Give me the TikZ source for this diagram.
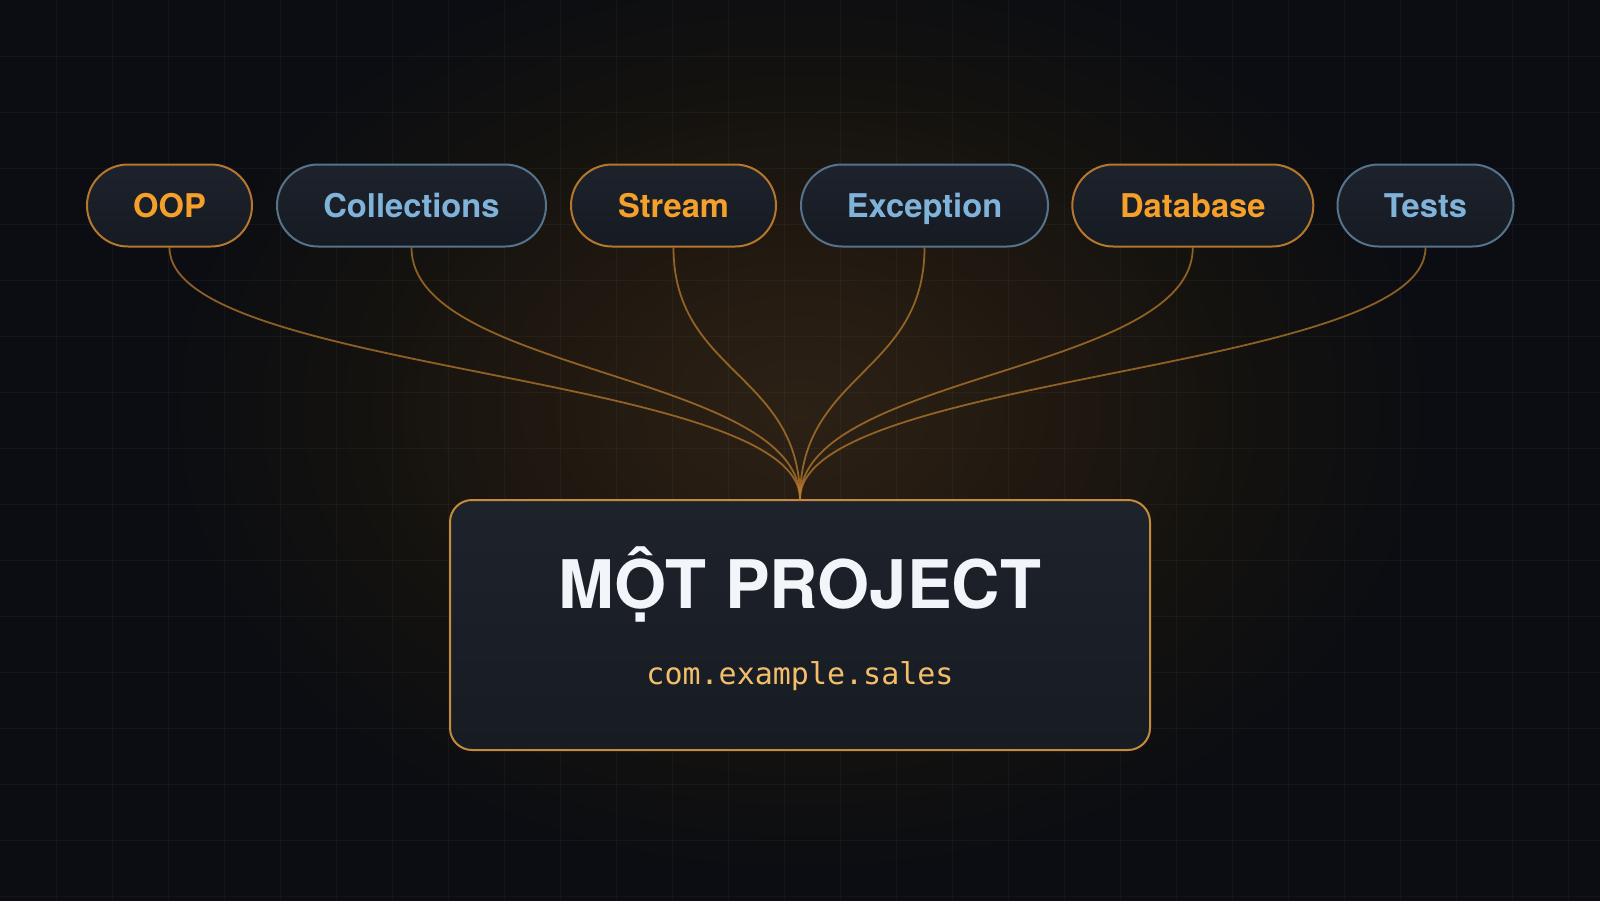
\documentclass[tikz,border=0pt]{standalone}
\usepackage{fontspec}
\newfontfamily\heros{TeX Gyre Heros}
\newfontfamily\monof{DejaVu Sans Mono}
\definecolor{bgc}{HTML}{0B0D12}
\definecolor{glowc}{HTML}{2C2115}
\definecolor{glowm}{HTML}{201810}
\definecolor{glowo}{HTML}{14120F}
\definecolor{gridc}{HTML}{FFFFFF}
\definecolor{pilltop}{HTML}{1E222C}
\definecolor{pillbot}{HTML}{161A22}
\definecolor{orangeb}{HTML}{B4772C}
\definecolor{oranget}{HTML}{F4A02A}
\definecolor{blueb}{HTML}{56738C}
\definecolor{bluet}{HTML}{80B3DA}
\definecolor{boxtop}{HTML}{1E222B}
\definecolor{boxbot}{HTML}{171B22}
\definecolor{boxb}{HTML}{C68A3C}
\definecolor{titlec}{HTML}{F2F5FA}
\definecolor{subc}{HTML}{F2BE6A}
\definecolor{connc}{HTML}{B87A2C}
\pgfdeclareradialshading{glowsh}{\pgfpoint{0bp}{0bp}}{color(0bp)=(glowc); color(10bp)=(glowm); color(17bp)=(glowo); color(25bp)=(bgc); color(50bp)=(bgc)}
\tikzset{
  pill/.style={rectangle, rounded corners=41, minimum height=82, inner xsep=0pt,
    top color=pilltop, bottom color=pillbot, line width=2pt,
    text height=23.5pt, text depth=0pt,
    font=\heros\bfseries\fontsize{32.7}{38}\selectfont},
  pillo/.style={pill, draw=orangeb, text=oranget},
  pillb/.style={pill, draw=blueb, text=bluet},
  corebox/.style={rectangle, rounded corners=22, minimum width=700, minimum height=250,
    top color=boxtop, bottom color=boxbot, draw=boxb, line width=2pt},
  conn/.style={draw=connc, line width=1.8pt, draw opacity=0.75},
  gridline/.style={draw=gridc, draw opacity=0.035, line width=1pt}
}
\begin{document}
\begin{tikzpicture}[x=1pt,y=-1pt]
\useasboundingbox (0,0) rectangle (1600,900);
\fill[bgc] (-10,-10) rectangle (1610,910);
\begin{scope}
  \clip (-10,-10) rectangle (1610,910);
  \shade[shading=glowsh] (800,410) ellipse [x radius=640, y radius=470];
\end{scope}
\foreach \gx in {56,112,...,1568} {\draw[gridline] (\gx,-5) -- (\gx,905);}
\foreach \gy in {56,112,...,896} {\draw[gridline] (-5,\gy) -- (1605,\gy);}

\node[pillo, minimum width=165] (oop) at (169.5,205.5) {OOP};
\node[pillb, minimum width=269] (coll) at (411.5,205.5) {Collections};
\node[pillo, minimum width=205] (stream) at (673.5,205.5) {Stream};
\node[pillb, minimum width=247] (exc) at (924.5,205.5) {Exception};
\node[pillo, minimum width=241] (db) at (1192.8,205.5) {Database};
\node[pillb, minimum width=176] (tests) at (1425.5,205.5) {Tests};

\node[corebox] (core) at (800,625) {};
\node[anchor=base, text=titlec, font=\heros\bfseries\fontsize{67}{72}\selectfont] (title) at (800,608) {MỘT PROJECT};
\node[anchor=base, text=subc, font=\monof\fontsize{30}{34}\selectfont] (sub) at (800,684) {com.example.sales};

\foreach \p in {oop,coll,stream,exc,db,tests} {
  \draw[conn] (\p.south) .. controls +(0,126) and +(0,-126) .. (core.north);
}
\end{tikzpicture}
\end{document}
